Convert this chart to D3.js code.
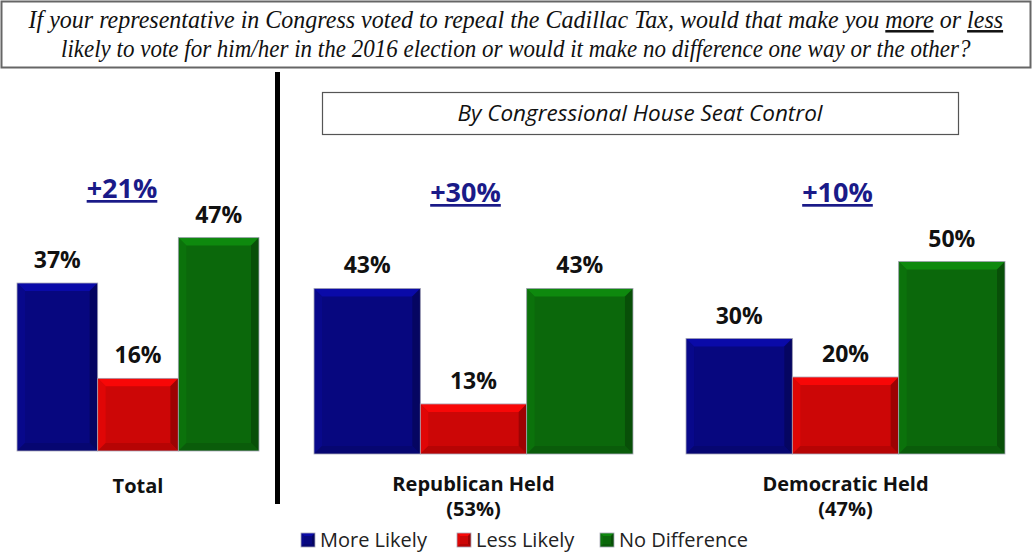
<!DOCTYPE html>
<html>
<head>
<meta charset="utf-8">
<script src="https://cdn.jsdelivr.net/npm/d3@7"></script>
<style>
	body { margin: 0; background: #fff; }
	svg { display: block; }
</style>
</head>
<body>
<svg class="chart"></svg>
<script>
const categories = ['More Likely', 'Less Likely', 'No Difference'];
const groups = ['Total', 'Republican Held', 'Democratic Held'];
const groupShare = ['', '(53%)', '(47%)'];
const moreLikely = [37, 43, 30];
const lessLikely = [16, 13, 20];
const noDifference = [47, 43, 50];
const netLabels = ['+21%', '+30%', '+10%'];
const colors = ['#07077f', '#cc0606', '#0b680b'];

const titleLines = [
	['If your representative  in Congress voted to repeal the Cadillac Tax, would that make you ', 'more', ' or ', 'less'],
	['likely to vote for him/her in the 2016 election or would it make no difference one way or the other?']
];
const subtitle = 'By Congressional House Seat Control';

const svg = d3.select('.chart')
	.attr('width', 1033)
	.attr('height', 554);

const data = groups.map((g, i) => ({
	group: g,
	share: groupShare[i],
	net: netLabels[i],
	values: [moreLikely[i], lessLikely[i], noDifference[i]]
}));

// two panels: total on the left, by seat control on the right
const xLeft = d3.scaleBand()
	.domain(['Total'])
	.range([17, 259]);
const yLeft = d3.scaleLinear()
	.domain([0, 100])
	.range([451, -3]);

const xRight = d3.scaleBand()
	.domain(['Republican Held', 'Democratic Held'])
	.range([314, 1005])
	.paddingInner(0.1425);
const yRight = d3.scaleLinear()
	.domain([0, 100])
	.range([454, 69]);

const xOf = g => g === 'Total' ? xLeft : xRight;
const yOf = g => g === 'Total' ? yLeft : yRight;

// title box
svg.append('rect')
	.attr('x', 1.5).attr('y', 1.5)
	.attr('width', 1029).attr('height', 66)
	.attr('fill', '#fff')
	.attr('stroke', '#666')
	.attr('stroke-width', 2);

const titleY = [28, 57];
const titleLen = [975, 910];
titleLines.forEach((parts, i) => {
	const t = svg.append('text')
		.attr('x', 0)
		.attr('y', 0)
		.style('font-family', '"Liberation Serif", "DejaVu Serif", serif')
		.style('font-style', 'italic')
		.style('font-size', '25px')
		.attr('fill', '#111');
	parts.forEach(p => {
		t.append('tspan')
			.text(p)
			.style('text-decoration', (p === 'more' || p === 'less') ? 'underline' : 'none');
	});
	// squeeze the line horizontally to the width of the original
	const w = t.node().getComputedTextLength();
	const k = titleLen[i] / w;
	t.attr('transform', `translate(${516 - titleLen[i] / 2}, ${titleY[i]}) scale(${k}, 1)`);
});

// divider
svg.append('rect')
	.attr('x', 275).attr('y', 72)
	.attr('width', 5).attr('height', 432)
	.attr('fill', '#000');

// subtitle box
svg.append('rect')
	.attr('x', 322.5).attr('y', 92.5)
	.attr('width', 636).attr('height', 42)
	.attr('fill', '#fff')
	.attr('stroke', '#555')
	.attr('stroke-width', 1.2);
svg.append('text')
	.attr('x', 640)
	.attr('y', 121)
	.attr('text-anchor', 'middle')
	.style('font-family', '"Open Sans", sans-serif')
	.style('font-style', 'italic')
	.style('font-size', '22.5px')
	.attr('fill', '#111')
	.text(subtitle);

// beveled bar
const bevelBar = (g, x, y, w, h, color, b) => {
	const c = d3.color(color);
	b = Math.min(b, h / 2, w / 2);
	g.append('rect')
		.attr('x', x).attr('y', y)
		.attr('width', w).attr('height', h)
		.attr('fill', color);
	const faces = [
		{ pts: [[x, y], [x + w, y], [x + w - b, y + b], [x + b, y + b]], fill: c.brighter(0.9) },
		{ pts: [[x, y], [x + b, y + b], [x + b, y + h - b], [x, y + h]], fill: c.brighter(0.3) },
		{ pts: [[x + w, y], [x + w, y + h], [x + w - b, y + h - b], [x + w - b, y + b]], fill: c.darker(0.9) },
		{ pts: [[x, y + h], [x + b, y + h - b], [x + w - b, y + h - b], [x + w, y + h]], fill: c.darker(0.4) }
	];
	g.selectAll(null)
		.data(faces)
		.enter().append('polygon')
		.attr('points', d => d.pts.map(p => p.join(',')).join(' '))
		.attr('fill', d => d.fill)
		.attr('opacity', 0.85);
	g.append('rect')
		.attr('x', x).attr('y', y)
		.attr('width', w).attr('height', h)
		.attr('fill', 'none')
		.attr('stroke', '#a8a8b8')
		.attr('stroke-width', 0.8);
};

const fontBold = '"Open Sans", Lato, sans-serif';

data.forEach(d => {
	const x0 = xOf(d.group);
	const y = yOf(d.group);
	const inner = d3.scaleBand()
		.domain(categories)
		.range([0, x0.bandwidth()]);
	const gx = x0(d.group);
	const g = svg.append('g');

	d.values.forEach((v, i) => {
		const bx = gx + inner(categories[i]);
		bevelBar(g, bx, y(v), inner.bandwidth(), y(0) - y(v), colors[i], 8);
		g.append('text')
			.attr('x', bx + inner.bandwidth() / 2)
			.attr('y', y(v) - 15)
			.attr('text-anchor', 'middle')
			.style('font-family', fontBold)
			.style('font-weight', 'bold')
			.style('font-size', '23px')
			.attr('fill', '#111')
			.text(v + '%');
	});

	const cx = gx + x0.bandwidth() / 2;
	const isTotal = d.group === 'Total';

	// net difference label
	g.append('text')
		.attr('x', cx - (isTotal ? 16 : 8))
		.attr('y', isTotal ? 198 : 202)
		.attr('text-anchor', 'middle')
		.style('font-family', fontBold)
		.style('font-weight', 'bold')
		.style('font-size', '27px')
		.style('text-decoration', 'underline')
		.attr('fill', '#1a1a88')
		.text(d.net);

	// category label
	g.append('text')
		.attr('x', cx)
		.attr('y', isTotal ? 493 : 491)
		.attr('text-anchor', 'middle')
		.style('font-family', fontBold)
		.style('font-weight', 'bold')
		.style('font-size', '20px')
		.attr('fill', '#111')
		.text(d.group);
	if (d.share) {
		g.append('text')
			.attr('x', cx)
			.attr('y', 516)
			.attr('text-anchor', 'middle')
			.style('font-family', fontBold)
			.style('font-weight', 'bold')
			.style('font-size', '20px')
			.attr('fill', '#111')
			.text(d.share);
	}
});

// legend
const legendX = [301, 457, 600];
const legend = svg.append('g')
	.selectAll('g')
	.data(categories)
	.enter().append('g')
	.attr('transform', (d, i) => `translate(${legendX[i]}, 533)`);
legend.each(function(d, i) {
	bevelBar(d3.select(this), 0, 0, 14, 14, colors[i], 3);
});
legend.append('text')
	.attr('x', 19)
	.attr('y', 13.5)
	.style('font-family', '"Open Sans", Lato, sans-serif')
	.style('font-size', '20px')
	.attr('fill', '#222')
	.text(d => d);
</script>
</body>
</html>
